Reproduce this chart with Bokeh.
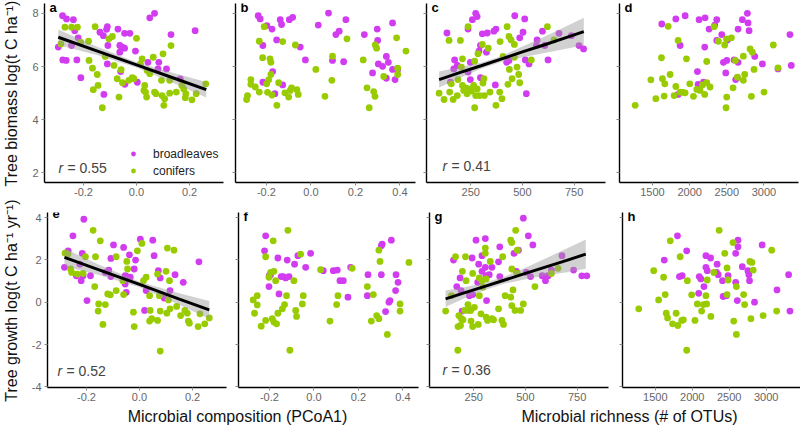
import math
from bokeh.plotting import figure
from bokeh.layouts import column, row
from bokeh.models import Range1d, FixedTicker, Label, Legend, LegendItem, CustomJSTickFormatter
from bokeh.embed import file_html
from bokeh.resources import INLINE

PURPLE = "#D23CF0"
GREEN = "#99CC00"
FONT = "Liberation Sans"

# ---------------- data ----------------
# panel a: biomass vs composition
a_bl_x = [-0.279, -0.264, -0.238, -0.233, -0.22, -0.295, -0.245, -0.278, -0.265, -0.225, -0.21, -0.138, -0.125, -0.11, -0.113, -0.108, -0.07, -0.045, -0.025, -0.063, -0.054, -0.045, -0.063, -0.06, -0.044, -0.004, 0.003, 0.05, 0.068, 0.043, 0.081, 0.084, 0.113, 0.13, 0.165, 0.221, -0.123, -0.11]
a_bl_y = [7.91, 7.79, 7.76, 7.35, 7.08, 6.73, 6.79, 6.25, 6.23, 6.25, 5.58, 7.29, 7.16, 7.5, 7.4, 6.79, 7.41, 7.25, 7.25, 6.79, 6.73, 6.69, 6.54, 5.81, 5.33, 6.58, 5.41, 7.83, 8.0, 6.16, 5.91, 6.16, 5.91, 7.2, 5.54, 7.35, 4.95, 6.1]
a_co_x = [-0.27, -0.245, -0.223, -0.156, -0.181, -0.21, -0.285, -0.179, -0.166, -0.163, -0.148, -0.145, -0.129, -0.118, -0.104, -0.091, -0.085, -0.073, -0.066, -0.058, -0.053, -0.029, -0.01, 0.0, 0.015, 0.021, 0.028, 0.031, 0.034, 0.038, 0.04, 0.05, 0.063, 0.068, 0.073, 0.094, 0.1, 0.096, 0.103, 0.106, 0.125, 0.125, 0.13, 0.15, 0.178, 0.184, 0.186, 0.209, 0.225, 0.261, 0.171, -0.016]
a_co_y = [7.48, 7.48, 7.48, 7.5, 6.95, 6.91, 6.85, 6.23, 5.94, 5.13, 5.7, 5.29, 4.45, 6.38, 7.04, 7.13, 6.04, 5.54, 4.85, 5.88, 5.39, 5.48, 5.54, 7.06, 6.1, 6.29, 5.1, 5.29, 5.04, 4.85, 5.85, 5.73, 6.35, 5.04, 4.98, 5.48, 6.48, 4.91, 4.54, 4.79, 5.0, 5.48, 6.79, 5.04, 5.16, 4.83, 4.98, 4.75, 4.98, 5.35, 5.29, 5.58]
a_fit_x = [-0.295, -0.15, 0.0, 0.15, 0.263]
a_fit_y = [7.1, 6.59, 6.06, 5.53, 5.13]
a_fit_lo = [6.81, 6.43, 5.96, 5.33, 4.84]
a_fit_hi = [7.39, 6.75, 6.16, 5.73, 5.42]

# panel b: biomass vs composition (second group)
b_bl_x = [-0.237, -0.228, -0.198, -0.175, -0.138, -0.132, -0.097, -0.082, -0.216, -0.154, -0.048, -0.025, 0.033, 0.079, 0.112, 0.127, 0.097, 0.147, 0.157, 0.24, 0.298, 0.3, 0.277, 0.303, 0.322, 0.339, 0.348, 0.367, 0.367, 0.339, 0.378, -0.172, -0.216, -0.127, -0.162, 0.39]
b_bl_y = [7.91, 7.79, 7.54, 7.41, 7.76, 7.58, 7.76, 7.85, 6.79, 7.0, 6.73, 6.25, 7.56, 8.01, 7.2, 7.33, 6.23, 6.18, 7.76, 7.2, 7.41, 6.98, 5.76, 6.1, 6.01, 6.38, 6.16, 7.64, 5.89, 5.56, 5.51, 5.81, 5.41, 5.31, 4.98, 5.89]
b_co_x = [-0.21, -0.232, -0.217, -0.184, -0.18, -0.127, -0.07, -0.18, -0.19, -0.199, -0.27, -0.27, -0.25, -0.232, -0.285, -0.289, -0.195, -0.175, -0.145, -0.153, -0.117, -0.1, -0.093, -0.087, -0.063, -0.057, 0.022, 0.063, 0.094, 0.097, 0.162, 0.235, 0.252, 0.262, 0.282, 0.288, 0.289, 0.295, 0.327, 0.385, 0.39, 0.39, 0.427]
b_co_y = [7.5, 6.95, 6.33, 6.29, 6.16, 6.94, 6.81, 5.7, 5.5, 5.35, 5.51, 5.33, 5.23, 5.04, 4.91, 4.76, 5.03, 4.93, 5.39, 4.54, 5.01, 4.85, 5.1, 5.2, 5.13, 4.95, 5.89, 4.88, 5.48, 6.39, 7.04, 6.25, 5.2, 4.45, 5.06, 4.88, 6.81, 6.69, 5.63, 7.08, 5.94, 5.7, 6.58]

# panel c: biomass vs richness (first group)
c_bl_x = [135, 172, 168, 185, 152, 237, 258, 274, 281, 248, 237, 248, 297, 290, 306, 330, 326, 297, 362, 372, 369, 424, 435, 463, 487, 503, 511, 514, 519, 532, 568, 571, 597, 608, 624, 677, 737, 774, 796]
c_bl_y = [7.26, 6.25, 5.91, 6.04, 5.41, 7.41, 7.76, 8.0, 7.88, 6.16, 5.79, 5.51, 6.79, 6.58, 7.23, 7.26, 6.54, 5.58, 7.33, 7.41, 5.31, 6.16, 6.23, 7.91, 7.08, 7.29, 7.79, 6.25, 4.98, 6.1, 6.79, 7.0, 7.33, 6.79, 6.25, 7.25, 7.16, 6.79, 6.66]
c_co_x = [97, 121, 148, 165, 145, 156, 185, 188, 200, 205, 210, 210, 216, 226, 232, 237, 242, 253, 264, 269, 274, 281, 285, 269, 293, 306, 309, 316, 314, 335, 343, 372, 392, 390, 401, 406, 426, 435, 430, 437, 445, 450, 461, 461, 474, 482, 487, 543, 621, 653]
c_co_y = [5.0, 4.76, 5.04, 4.76, 6.98, 5.35, 4.91, 5.51, 6.98, 5.98, 6.29, 5.29, 5.1, 5.2, 4.98, 7.5, 5.16, 5.08, 5.29, 6.2, 4.91, 5.16, 6.48, 4.45, 4.91, 6.83, 5.38, 4.91, 5.54, 6.69, 5.04, 4.54, 6.94, 5.04, 4.79, 6.38, 7.5, 7.13, 5.33, 5.89, 7.0, 5.54, 6.83, 6.35, 5.98, 5.7, 5.39, 6.25, 7.5, 7.0]
c_fit_x = [97, 200, 300, 400, 500, 600, 700, 797]
c_fit_y = [5.51, 5.78, 6.03, 6.29, 6.55, 6.8, 7.06, 7.31]
c_fit_lo = [5.21, 5.58, 5.92, 6.18, 6.35, 6.5, 6.65, 6.8]
c_fit_hi = [5.81, 5.98, 6.14, 6.4, 6.75, 7.1, 7.47, 7.83]

# panel d: biomass vs richness (second group)
d_bl_x = [1625, 1814, 1939, 1872, 2127, 2208, 2262, 2365, 2338, 2203, 2432, 2365, 2105, 2114, 2186, 1845, 2455, 2500, 2486, 2598, 2652, 2620, 2643, 2652, 2710, 2777, 2786, 2800, 2876, 2979, 3189, 3350, 3368, 2508]
d_bl_y = [7.6, 7.79, 7.91, 6.79, 7.76, 7.83, 7.41, 7.76, 7.56, 6.73, 7.2, 6.98, 5.81, 5.33, 5.41, 4.95, 6.16, 6.23, 5.76, 6.25, 6.16, 5.51, 5.58, 7.41, 7.76, 8.0, 7.64, 7.35, 6.38, 6.1, 5.91, 7.2, 6.04, 7.0]
d_co_x = [1267, 1478, 1545, 1621, 1634, 1666, 1657, 1711, 1737, 1791, 1814, 1845, 1872, 1903, 1939, 1957, 2002, 2051, 2096, 2140, 2172, 2203, 2230, 2230, 2275, 2329, 2387, 2472, 2495, 2562, 2499, 2490, 2584, 2616, 2643, 2723, 2741, 2723, 2813, 2844, 2831, 2867, 3001, 3126, 3189]
d_co_y = [4.54, 5.5, 4.79, 6.33, 5.54, 5.35, 4.89, 7.51, 5.7, 4.91, 5.25, 6.98, 5.04, 5.03, 5.01, 6.29, 5.35, 4.88, 5.14, 5.1, 5.31, 4.95, 6.19, 5.39, 5.23, 7.5, 6.95, 6.81, 7.04, 7.08, 4.85, 4.45, 5.2, 6.23, 5.6, 5.48, 5.7, 6.39, 6.66, 6.54, 4.88, 5.89, 5.04, 6.81, 5.95]

# panel e: growth vs composition (first group)
e_bl_x = [-0.283, -0.269, -0.251, -0.21, -0.216, -0.225, -0.238, -0.22, -0.213, -0.185, -0.198, -0.116, -0.098, -0.108, -0.108, -0.06, -0.038, -0.015, -0.02, -0.054, -0.048, -0.035, -0.054, -0.05, 0.003, 0.05, 0.055, 0.025, 0.019, 0.071, 0.078, 0.115, 0.134, 0.165, 0.224, 0.093, -0.129]
e_bl_y = [1.65, 2.43, 3.14, 3.92, 2.31, 1.8, 1.25, 1.02, 1.25, 1.25, 0.08, 1.52, 2.71, 1.21, 2.07, 2.59, 2.24, 1.99, 1.57, 1.25, 1.21, 1.18, 0.86, 0.47, 2.98, 2.93, 2.2, 0.55, -0.39, 1.49, 1.15, 0.55, 1.3, 0.94, 1.91, 0.2, 1.41]
e_co_x = [-0.281, -0.27, -0.26, -0.256, -0.235, -0.213, -0.204, -0.175, -0.169, -0.166, -0.154, -0.148, -0.156, -0.138, -0.129, -0.12, -0.11, -0.088, -0.088, -0.06, -0.048, -0.045, -0.063, -0.023, -0.02, -0.008, 0.009, 0.015, 0.025, 0.038, 0.038, 0.04, 0.046, 0.068, 0.068, 0.078, 0.075, 0.078, 0.103, 0.105, 0.1, 0.109, 0.113, 0.115, 0.13, 0.14, 0.155, 0.171, 0.184, 0.188, 0.221, 0.246, 0.263, 0.228, 0.18]
e_co_y = [2.32, 2.27, 1.57, 1.41, 1.33, 1.36, 2.15, 3.4, 0.74, 2.15, -0.08, 2.9, -0.42, -1.05, -0.11, 0.39, 0.35, 0.55, 2.15, 0.36, 1.93, 1.57, 1.02, -0.47, -1.15, 2.43, 2.78, 1.02, 1.18, 0.31, -0.89, -0.39, -0.78, 1.33, -0.86, -2.31, 0.31, -0.42, -0.52, 2.56, 1.46, 0.11, 1.02, -0.31, 2.46, -0.2, -0.63, -0.39, -0.89, -0.99, -1.15, -1.02, -0.74, -0.55, -0.52]
e_fit_x = [-0.283, -0.15, 0.0, 0.15, 0.263]
e_fit_y = [2.12, 1.52, 0.84, 0.15, -0.36]
e_fit_lo = [1.7, 1.28, 0.71, -0.12, -0.78]
e_fit_hi = [2.54, 1.76, 0.97, 0.42, 0.06]

# panel f: growth vs composition (second group)
f_bl_x = [-0.217, -0.222, -0.201, -0.195, -0.202, -0.162, -0.157, -0.147, -0.138, -0.127, -0.12, -0.112, -0.087, -0.072, -0.037, -0.015, 0.042, 0.087, 0.105, 0.117, 0.132, 0.153, 0.165, 0.243, 0.24, 0.303, 0.307, 0.303, 0.348, 0.369, 0.378, 0.367, 0.342, 0.337, 0.322]
f_bl_y = [3.14, 2.43, 1.25, 1.3, 0.74, 2.09, 0.39, 1.21, 1.21, 1.15, 1.99, 1.21, 1.8, 2.2, 1.65, 2.31, 1.49, 1.49, 1.52, 1.02, 1.02, 0.24, 1.65, 1.3, 0.31, 2.67, 2.75, 1.3, 2.93, 1.3, 0.94, 0.55, 0.08, 0.0, -0.44]
f_co_x = [-0.117, -0.183, -0.217, -0.202, -0.195, -0.18, -0.172, -0.273, -0.255, -0.255, -0.267, -0.237, -0.217, -0.187, -0.18, -0.168, -0.162, -0.142, -0.132, -0.123, -0.108, -0.09, -0.082, -0.078, -0.06, -0.052, -0.048, 0.03, 0.072, 0.102, 0.108, 0.172, 0.24, 0.258, 0.267, 0.282, 0.292, 0.292, 0.297, 0.33, 0.387, 0.387, 0.427]
f_co_y = [3.4, 2.9, 2.15, 1.18, 1.41, 1.46, 1.02, 0.11, 0.31, -0.13, -0.52, -1.13, -0.86, -0.78, -0.94, -1.02, -0.52, -0.31, -0.11, 0.31, -2.27, 1.02, -0.39, -0.67, 2.27, -0.08, 0.31, 1.54, -0.89, -0.11, 0.31, 1.6, 0.74, -0.89, 0.36, -0.63, -0.78, 2.46, 1.93, -1.52, -0.08, -0.42, 1.88]

# panel g: growth vs richness (first group)
g_bl_x = [152, 168, 184, 189, 194, 242, 245, 261, 274, 269, 290, 290, 306, 306, 309, 312, 325, 338, 370, 376, 376, 445, 456, 466, 490, 504, 514, 525, 536, 581, 597, 600, 610, 626, 677, 733, 773, 797, 229]
g_bl_y = [1.99, 0.74, 1.15, 0.55, -0.42, 2.09, 0.36, 2.93, 1.8, 0.94, 2.2, 1.46, 3.01, 1.65, 1.25, 0.08, 1.3, 1.65, 1.91, 2.62, 1.21, 2.31, 1.46, 2.46, 3.97, 1.41, 3.14, 1.21, 2.71, 1.25, 1.02, 1.21, 1.25, 1.52, 2.2, 1.52, 1.25, 1.25, 0.31]
g_co_x = [114, 142, 162, 178, 186, 190, 174, 195, 198, 206, 210, 213, 222, 226, 235, 237, 245, 245, 253, 272, 277, 277, 285, 290, 294, 306, 306, 310, 310, 317, 330, 338, 346, 370, 386, 394, 402, 390, 429, 434, 434, 440, 429, 434, 453, 461, 461, 450, 477, 490, 546, 626, 658, 173]
g_co_y = [-0.42, 0.31, 2.15, -0.63, -1.1, -0.78, -1.15, 1.46, -0.83, -0.39, 2.15, 1.02, -0.11, -0.39, -0.39, -0.89, -1.15, 1.36, -0.24, -1.05, 1.15, 0.31, -0.55, 1.02, 0.71, 2.56, 2.31, 1.1, -0.71, -0.86, 1.93, -0.78, -0.83, -0.31, -0.86, -1.05, 0.31, 2.15, 2.93, 2.82, 1.57, 0.58, 0.24, -0.16, 3.4, 2.46, 1.36, -0.39, -0.39, -0.08, 0.74, 1.36, 1.6, -2.27]
g_fit_x = [114, 200, 300, 400, 500, 600, 700, 792]
g_fit_y = [0.16, 0.43, 0.74, 1.05, 1.36, 1.67, 1.98, 2.27]
g_fit_lo = [-0.23, 0.16, 0.57, 0.88, 1.09, 1.26, 1.42, 1.58]
g_fit_hi = [0.55, 0.7, 0.91, 1.22, 1.63, 2.08, 2.54, 2.96]

# panel h: growth vs richness (second group)
h_bl_x = [1800, 1621, 1925, 1827, 1863, 2185, 2248, 2185, 2203, 2095, 2117, 2158, 2087, 2337, 2328, 2351, 2409, 2418, 2463, 2485, 2588, 2588, 2619, 2619, 2610, 2677, 2753, 2766, 2775, 2843, 2946, 3147, 3304, 3322]
h_bl_y = [3.14, 1.99, 2.43, 1.21, 1.25, 2.2, 2.09, 1.65, 1.49, 1.21, 1.1, 0.74, 0.42, 1.8, 1.41, 1.3, 1.02, 0.27, 0.31, 1.25, 2.31, 0.94, 2.93, 2.62, 0.08, 1.68, 1.49, 1.3, 1.02, 0.0, 2.71, 0.58, 1.3, -0.42]
h_co_x = [1276, 1478, 1545, 1612, 1634, 1648, 1666, 1702, 1733, 1782, 1804, 1836, 1858, 1880, 1934, 1925, 1992, 2037, 2069, 2127, 2150, 2194, 2185, 2203, 2252, 2292, 2364, 2440, 2471, 2485, 2471, 2552, 2561, 2597, 2597, 2695, 2708, 2780, 2807, 2825, 2794, 2959, 3075, 3142]
h_co_y = [-0.31, 1.49, 0.11, 1.18, 0.36, -0.52, -0.74, 2.9, -1.02, -0.52, -1.1, 2.15, -0.86, -0.83, 1.02, -2.27, 0.35, -0.86, -0.08, -0.42, -0.11, -0.08, 0.31, 1.05, -0.67, 1.41, 3.4, 2.31, 1.62, 1.05, 0.36, 2.82, -0.89, 0.74, -1.52, 0.36, -0.11, 1.93, 1.88, 1.52, -0.78, -0.63, 2.46, -0.42]

# axis setup
X_COMP = (-0.347, 0.328)
X_COMP2 = (-0.339, 0.47)
X_RICH = (36, 902)
X_RICH2 = (1056, 3465)
Y_TOP = (1.64, 8.37)
Y_BOT = (-4.03, 4.24)
TICKS_COMP = [-0.2, 0.0, 0.2]
TICKS_COMP2 = [-0.2, 0.0, 0.2, 0.4]
TICKS_RICH = [250, 500, 750]
TICKS_RICH2 = [1500, 2000, 2500, 3000]
TICKS_YTOP = [2, 4, 6, 8]
TICKS_YBOT = [-4, -2, 0, 2, 4]

TICK_COLOR = "#8a8a8a"
LABEL_COLOR = "#666666"


def panel(width, height, bl, br, bt, bb, xr, yr, xt, yt, xfmt, ylabels):
    p = figure(width=width, height=height, x_range=Range1d(*xr), y_range=Range1d(*yr),
               output_backend="svg", toolbar_location=None,
               min_border_left=bl, min_border_right=br, min_border_top=bt, min_border_bottom=bb)
    p.outline_line_color = None
    p.grid.visible = False
    p.xaxis.ticker = FixedTicker(ticks=xt)
    p.yaxis.ticker = FixedTicker(ticks=yt)
    p.xaxis.formatter = CustomJSTickFormatter(code="return tick.toFixed(%d)" % xfmt)
    if ylabels:
        p.yaxis.formatter = CustomJSTickFormatter(code="return tick.toFixed(0)")
        p.yaxis.major_label_standoff = 3
    else:
        p.yaxis.formatter = CustomJSTickFormatter(code="return ''")
        p.yaxis.major_label_standoff = 0
    for ax in (p.xaxis, p.yaxis):
        ax.axis_line_color = "black"
        ax.axis_line_width = 1.4
        ax.major_tick_line_color = TICK_COLOR
        ax.major_tick_out = 3
        ax.major_tick_in = 0
        ax.minor_tick_line_color = None
        ax.major_label_text_font = FONT
        ax.major_label_text_font_size = "11px"
        ax.major_label_text_color = LABEL_COLOR
        ax.axis_label_standoff = 0
    p.xaxis.major_label_standoff = 2
    return p


def points(p, bx, by, cx, cy):
    r1 = p.scatter(bx, by, size=6.8, fill_color=PURPLE, line_color=None)
    r2 = p.scatter(cx, cy, size=6.8, fill_color=GREEN, line_color=None)
    return r1, r2


def fit(p, fx, fy, lo, hi):
    p.varea(x=fx, y1=lo, y2=hi, fill_color="#999999", fill_alpha=0.45)
    p.line(fx, fy, line_width=3, line_color="black")


def letter(p, txt, xr, yr):
    p.add_layout(Label(x=xr[0], y=yr[1], x_offset=5, y_offset=4, text=txt, text_font=FONT, text_font_size="13px",
                       text_font_style="bold", text_color="black", text_baseline="top", text_align="left"))


def rlab(p, val, xr, yr, dx, dy):
    p.add_layout(Label(x=xr[0], y=yr[0], x_offset=dx, y_offset=dy, text="r", text_font=FONT,
                       text_font_size="14px", text_font_style="italic", text_baseline="alphabetic"))
    p.add_layout(Label(x=xr[0], y=yr[0], x_offset=dx + 9, y_offset=dy, text="= " + val, text_font=FONT,
                       text_font_size="14px", text_baseline="alphabetic"))


H1, H2 = 200, 205
pa = panel(207, H1, 22, 6, 3, 18, X_COMP, Y_TOP, TICKS_COMP, TICKS_YTOP, 1, True)
pb = panel(191, H1, 6, 5, 3, 18, X_COMP2, Y_TOP, TICKS_COMP2, TICKS_YTOP, 1, False)
pc = panel(192, H1, 6, 7, 3, 18, X_RICH, Y_TOP, TICKS_RICH, TICKS_YTOP, 0, False)
pd = panel(188, H1, 7, 2, 3, 18, X_RICH2, Y_TOP, TICKS_RICH2, TICKS_YTOP, 0, False)
pe = panel(207, H2, 25, 3, 12, 18, X_COMP, Y_BOT, TICKS_COMP, TICKS_YBOT, 1, True)
pf = panel(191, H2, 9, 2, 12, 18, X_COMP2, Y_BOT, TICKS_COMP2, TICKS_YBOT, 1, False)
pg = panel(192, H2, 9, 4, 12, 18, X_RICH, Y_BOT, TICKS_RICH, TICKS_YBOT, 0, False)
ph = panel(188, H2, 10, 0, 12, 18, X_RICH2, Y_BOT, TICKS_RICH2, TICKS_YBOT, 0, False)

ra1, ra2 = points(pa, a_bl_x, a_bl_y, a_co_x, a_co_y)
fit(pa, a_fit_x, a_fit_y, a_fit_lo, a_fit_hi)
points(pb, b_bl_x, b_bl_y, b_co_x, b_co_y)
points(pc, c_bl_x, c_bl_y, c_co_x, c_co_y)
fit(pc, c_fit_x, c_fit_y, c_fit_lo, c_fit_hi)
points(pd, d_bl_x, d_bl_y, d_co_x, d_co_y)
points(pe, e_bl_x, e_bl_y, e_co_x, e_co_y)
fit(pe, e_fit_x, e_fit_y, e_fit_lo, e_fit_hi)
points(pf, f_bl_x, f_bl_y, f_co_x, f_co_y)
points(pg, g_bl_x, g_bl_y, g_co_x, g_co_y)
fit(pg, g_fit_x, g_fit_y, g_fit_lo, g_fit_hi)
points(ph, h_bl_x, h_bl_y, h_co_x, h_co_y)

for p, t, xr, yr in [(pa, "a", X_COMP, Y_TOP), (pb, "b", X_COMP2, Y_TOP), (pc, "c", X_RICH, Y_TOP), (pd, "d", X_RICH2, Y_TOP),
                     (pe, "e", X_COMP, Y_BOT), (pf, "f", X_COMP2, Y_BOT), (pg, "g", X_RICH, Y_BOT), (ph, "h", X_RICH2, Y_BOT)]:
    letter(p, t, xr, yr)

rlab(pa, "0.55", X_COMP, Y_TOP, 14, 15)
rlab(pc, "0.41", X_RICH, Y_TOP, 16, 17)
rlab(pe, "0.52", X_COMP, Y_BOT, 10, 17)
rlab(pg, "0.36", X_RICH, Y_BOT, 13, 18)

leg = Legend(items=[LegendItem(label="broadleaves", renderers=[ra1]), LegendItem(label="conifers", renderers=[ra2])],
             location=(83, 3), padding=0, margin=0, spacing=0, glyph_width=12, glyph_height=17,
             label_height=17, label_standoff=14, label_text_font=FONT, label_text_font_size="12px",
             label_text_color="#222222", background_fill_alpha=0, border_line_color=None)
pa.add_layout(leg)

# left strip with the y-axis titles
yl = figure(width=22, height=H1 + H2, x_range=Range1d(0, 22), y_range=Range1d(0, H1 + H2), x_axis_type=None,
            y_axis_type=None, output_backend="svg", toolbar_location=None, min_border=0)
yl.outline_line_color = None
yl.grid.visible = False
yl.add_layout(Label(x=11, y=H1 + H2 - 93, angle=math.pi / 2, text="Tree biomass log(t C ha\u207b\u00b9)",
                    text_align="center", text_baseline="middle", text_font=FONT, text_font_size="16px",
                    text_color="#111111"))
yl.add_layout(Label(x=11, y=H1 + H2 - 300, angle=math.pi / 2, text="Tree growth log(t C ha\u207b\u00b9 yr\u207b\u00b9)",
                    text_align="center", text_baseline="middle", text_font=FONT, text_font_size="16px",
                    text_color="#111111"))

# bottom strip with the x-axis titles
tt = figure(width=800, height=21, x_range=Range1d(0, 800), y_range=Range1d(0, 21), x_axis_type=None,
            y_axis_type=None, output_backend="svg", toolbar_location=None, min_border=0)
tt.outline_line_color = None
tt.grid.visible = False
tt.add_layout(Label(x=237, y=10, text="Microbial composition (PCoA1)", text_align="center", text_baseline="middle",
                    text_font=FONT, text_font_size="16px", text_color="#111111"))
tt.add_layout(Label(x=629, y=10, text="Microbial richness (# of OTUs)", text_align="center", text_baseline="middle",
                    text_font=FONT, text_font_size="16px", text_color="#111111"))

layout = column(row(yl, column(row(pa, pb, pc, pd), row(pe, pf, pg, ph))), tt)
open("out.html", "w").write(file_html(layout, INLINE))
